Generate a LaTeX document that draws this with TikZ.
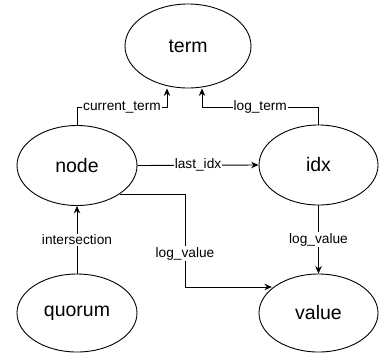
\documentclass[tikz,border=0pt]{standalone}
\usepackage{fontspec}
\setmainfont{Liberation Sans}
\usetikzlibrary{arrows.meta,shapes.geometric}
\begin{document}
\begin{tikzpicture}[x=1pt,y=-1pt,
  ell/.style={draw,line width=0.9pt,ellipse,inner sep=0pt,font=\fontsize{19.5}{22}\selectfont},
  conn/.style={line width=0.9pt,-{Stealth[length=7.5pt,width=6.5pt,inset=2.5pt]}},
  lbl/.style={fill=white,inner sep=1pt,font=\fontsize{13.7}{16}\selectfont}]
\useasboundingbox (0,0) rectangle (379,354);
\node[ell,minimum width=126pt,minimum height=84pt] (term) at (188,46) {term};
\node[ell,minimum width=120pt,minimum height=80pt] (node) at (77,165.5) {node};
\node[ell,minimum width=119pt,minimum height=80pt] (idx) at (318.5,165) {idx};
\node[ell,minimum width=120pt,minimum height=78pt] (quorum) at (77,313) {quorum};
\node[ell,minimum width=119pt,minimum height=78pt] (value) at (318.5,313) {value};
\coordinate (ct) at (167,107);
\coordinate (lt) at (202,107);
\coordinate (lv) at (185,287);
\draw[conn] (node.north) |- node[lbl,pos=0.75]{current\_term} (ct) -- (ct |- term.south);
\draw[conn] (idx.north) |- node[lbl,pos=0.75]{log\_term} (lt) -- (lt |- term.south);
\draw[conn] (node.east) -- node[lbl]{last\_idx} (idx.west);
\draw[conn] (node.-34) -| node[lbl,pos=0.82]{log\_value} (lv) -- (value.152 |- lv);
\draw[conn] (idx.south) -- node[lbl]{log\_value} (value.north);
\draw[conn] (quorum.north) -- node[lbl]{intersection} (node.south);
\end{tikzpicture}
\end{document}
